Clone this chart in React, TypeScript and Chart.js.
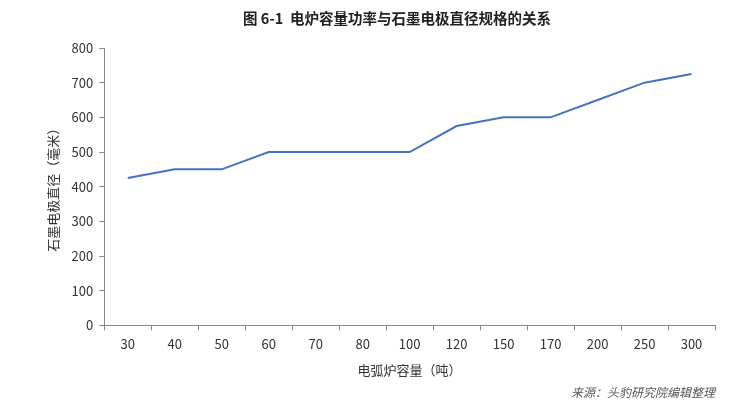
import React, { useEffect, useRef } from "react";
import { Chart, registerables } from "chart.js";

Chart.register(...registerables);

const categories = ["30", "40", "50", "60", "70", "80", "100", "120", "150", "170", "200", "250", "300"];
const diameters = [425, 450, 450, 500, 500, 500, 500, 575, 600, 600, 650, 700, 725];
const titleText = "图 6-1  电炉容量功率与石墨电极直径规格的关系";
const xTitle = "电弧炉容量（吨）";
const yTitle = "石墨电极直径（毫米）";
const sourceText = "来源：头豹研究院编辑整理";

const FONT = "'Noto Sans CJK SC', 'Noto Sans', sans-serif";

const titlePlugin = {
  id: "customTitle",
  afterDraw(chart: any) {
    const ctx = chart.ctx;
    ctx.save();
    ctx.font = `bold 14.5px ${FONT}`;
    ctx.fillStyle = "#222";
    ctx.textAlign = "center";
    ctx.textBaseline = "middle";
    ctx.fillText(titleText, 397, 18);
    ctx.restore();
  },
};

export default function App() {
  const ref = useRef<HTMLCanvasElement | null>(null);
  useEffect(() => {
    if (!ref.current) return;
    const chart = new Chart(ref.current, {
      type: "line",
      data: {
        labels: categories,
        datasets: [
          {
            data: diameters,
            borderColor: "#4472C4",
            borderWidth: 2,
            pointRadius: 0,
            tension: 0,
            fill: false,
          },
        ],
      },
      plugins: [titlePlugin],
      options: {
        animation: false,
        responsive: false,
        maintainAspectRatio: false,
        layout: { padding: { left: 45, right: 32, top: 48, bottom: 0 } },
        plugins: {
          legend: { display: false },
          tooltip: { enabled: false },
          title: { display: false },
          subtitle: {
            display: true,
            position: "bottom",
            align: "end",
            text: sourceText,
            color: "#555",
            font: { family: FONT, size: 12, style: "italic" },
            padding: { top: 8, bottom: 0 },
          },
        },
        scales: {
          x: {
            offset: true,
            grid: {
              display: true,
              drawOnChartArea: false,
              drawTicks: true,
              tickLength: 5,
              color: "#888",
              offset: true,
            },
            border: { display: true, color: "#888", width: 1 },
            ticks: { color: "#333", font: { family: FONT, size: 13 }, padding: 6 },
            title: {
              display: true,
              text: xTitle,
              color: "#333",
              font: { family: FONT, size: 13 },
              padding: { top: 4, bottom: 0 },
            },
          },
          y: {
            min: 0,
            max: 800,
            ticks: { stepSize: 100, color: "#333", font: { family: FONT, size: 13 }, padding: 6 },
            grid: {
              display: true,
              drawOnChartArea: false,
              drawTicks: true,
              tickLength: 5,
              color: "#888",
            },
            border: { display: true, color: "#888", width: 1 },
            title: {
              display: true,
              text: yTitle,
              color: "#333",
              font: { family: FONT, size: 13 },
              padding: { top: 0, bottom: 5 },
            },
          },
        },
      },
    });
    return () => chart.destroy();
  }, []);
  return (
    <div style={{ position: "fixed", left: 0, top: 0, width: 747, height: 400, background: "#fff" }}>
      <canvas ref={ref} width={747} height={400} style={{ display: "block" }} />
    </div>
  );
}
